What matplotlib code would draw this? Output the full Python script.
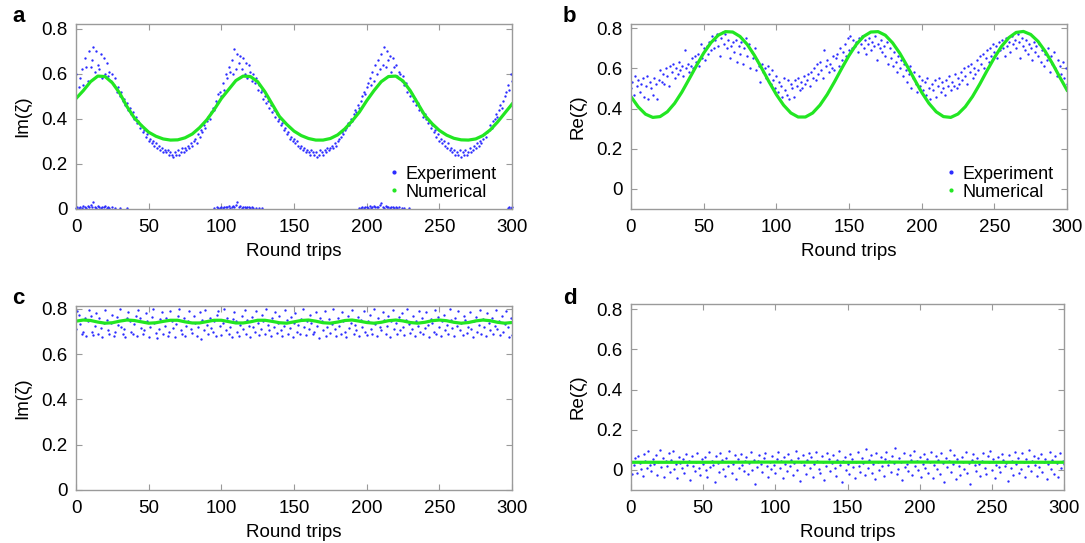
import numpy as np
import matplotlib
matplotlib.use("Agg")
import matplotlib.pyplot as plt
from matplotlib.lines import Line2D
from matplotlib.ticker import FuncFormatter

plt.rcParams['font.family'] = ['Liberation Sans', 'DejaVu Sans']

# --- Round trip axis ---
trips = np.arange(301)
trips_5 = np.arange(0, 301, 5)

# --- Panel a: Im(zeta), experiment (hundredths) ---
exp_a = [60, 50, 54, 58, 62, 55, 67, 63, 57, 70, 63, 66, 72, 61, 70, 64, 62, 69, 58, 67,
         60, 65, 59, 61, 57, 60, 55, 58, 52, 54, 50, 52, 48, 49, 46, 47, 44, 45, 42, 43,
         40, 41, 38, 39, 36, 37, 34, 35, 32, 33, 30, 31, 29, 30, 28, 29, 27, 28, 26, 27,
         25, 26, 25, 26, 24, 25, 24, 23, 25, 24, 26, 24, 25, 27, 25, 27, 26, 28, 27, 29,
         28, 30, 31, 29, 33, 32, 35, 34, 37, 36, 39, 41, 40, 43, 45, 44, 48, 47, 51, 52,
         50, 56, 53, 60, 58, 63, 61, 66, 60, 71, 62, 69, 65, 68, 62, 67, 60, 65, 58, 64,
         61, 57, 60, 56, 58, 53, 55, 52, 53, 49, 50, 47, 48, 45, 46, 43, 44, 41, 42, 39,
         40, 37, 38, 35, 36, 33, 34, 31, 32, 30, 31, 29, 30, 28, 27, 28, 26, 27, 25, 26,
         25, 24, 26, 25, 24, 25, 23, 24, 26, 25, 24, 26, 25, 27, 26, 27, 28, 27, 29, 28,
         30, 31, 32, 34, 33, 35, 36, 38, 37, 40, 39, 42, 44, 43, 46, 45, 48, 50, 52, 51,
         54, 56, 58, 55, 61, 57, 64, 60, 66, 62, 69, 64, 72, 63, 70, 66, 68, 61, 67, 63,
         64, 59, 61, 60, 57, 59, 55, 56, 52, 53, 50, 51, 48, 49, 46, 47, 44, 45, 43, 41,
         42, 40, 38, 39, 36, 37, 34, 35, 32, 33, 30, 31, 29, 30, 28, 27, 29, 26, 27, 25,
         26, 24, 25, 24, 26, 23, 25, 24, 26, 24, 25, 27, 25, 26, 28, 27, 29, 28, 30, 29,
         31, 33, 32, 34, 35, 37, 36, 39, 40, 42, 41, 44, 46, 45, 48, 50, 52, 55, 53, 60,
         57]

# --- Panel a: second branch near zero (thousandths) ---
zero_a_x = [0, 1, 2, 3, 4, 5, 6, 7, 8, 9, 10, 11, 12, 13, 14, 15, 16, 17, 18, 19, 20, 21, 22, 23,
            25, 27, 30, 35,
            95, 97, 98, 99, 100, 101, 102, 103, 104, 105, 106, 107, 108, 109, 110, 111, 112,
            113, 114, 115, 116, 117, 118, 119, 120, 121, 122, 124, 126, 128,
            195, 196, 197, 198, 199, 200, 201, 202, 203, 204, 205, 206, 207, 208, 209, 210,
            211, 212, 213, 214, 215, 216, 217, 218, 219, 220, 221, 222, 224, 226, 229,
            297, 298, 299, 300]
zero_a_y = [3, 5, 2, 8, 4, 10, 6, 3, 12, 7, 15, 5, 28, 9, 4, 11, 6, 3, 8, 5, 10, 4, 6, 3, 5, 4, 2, 1,
            3, 5, 2, 4, 7, 3, 9, 5, 6, 12, 4, 8, 10, 5, 18, 30, 7, 11, 4, 9, 6, 3, 8, 5, 4, 6, 3, 2, 4, 1,
            2, 4, 6, 3, 5, 8, 4, 10, 3, 7, 12, 5, 9, 6, 14, 25, 8, 4, 11, 6, 9, 3, 7, 5, 4, 6, 3, 5, 2, 4, 1,
            3, 5, 4, 6]

# --- Panel a: numerical (every 5 round trips) ---
num_a = [0.490, 0.525, 0.565, 0.590, 0.588, 0.560, 0.515, 0.455, 0.405, 0.370, 0.340,
         0.322, 0.310, 0.305, 0.306, 0.315, 0.332, 0.360, 0.395, 0.440, 0.490, 0.530,
         0.570, 0.590, 0.588, 0.565, 0.520, 0.465, 0.410, 0.375, 0.345, 0.325, 0.312,
         0.305, 0.305, 0.312, 0.328, 0.355, 0.390, 0.430, 0.480, 0.525, 0.565, 0.588,
         0.590, 0.568, 0.525, 0.470, 0.415, 0.378, 0.348, 0.327, 0.313, 0.306, 0.305,
         0.310, 0.325, 0.350, 0.385, 0.425, 0.465]

# --- Panel b: Re(zeta), experiment (hundredths) ---
exp_b = [50, 53, 47, 56, 51, 54, 48, 52, 55, 46, 51, 56, 45, 53, 50, 47, 55, 52, 45, 54,
         59, 53, 57, 52, 60, 56, 51, 61, 58, 62, 55, 60, 57, 63, 59, 61, 56, 69, 60, 62,
         58, 61, 65, 60, 66, 63, 67, 61, 72, 65, 70, 64, 71, 67, 73, 69, 76, 70, 74, 77,
         71, 66, 75, 78, 72, 77, 70, 74, 65, 71, 73, 68, 74, 63, 71, 67, 73, 62, 70, 75,
         66, 72, 60, 68, 65, 70, 59, 64, 61, 53, 62, 58, 60, 55, 61, 57, 52, 59, 54, 50,
         56, 48, 53, 51, 46, 55, 49, 47, 54, 45, 52, 50, 46, 54, 51, 55, 49, 53, 50, 56,
         52, 54, 57, 51, 58, 55, 60, 54, 62, 57, 63, 59, 55, 69, 61, 64, 58, 62, 60, 66,
         59, 65, 67, 61, 70, 64, 68, 72, 66, 75, 69, 76, 70, 74, 71, 73, 68, 75, 72, 76,
         70, 74, 67, 72, 75, 69, 73, 71, 76, 64, 72, 70, 74, 68, 71, 66, 73, 62, 70, 65,
         61, 68, 63, 58, 66, 60, 64, 56, 62, 59, 53, 57, 61, 50, 55, 58, 52, 48, 56, 51,
         54, 49, 53, 47, 55, 50, 45, 52, 49, 54, 46, 51, 55, 48, 53, 50, 47, 54, 51, 56,
         49, 53, 51, 57, 50, 55, 52, 58, 54, 60, 56, 52, 61, 58, 62, 55, 60, 57, 64, 59,
         66, 62, 67, 60, 65, 69, 63, 70, 66, 72, 68, 71, 65, 73, 69, 74, 70, 66, 75, 71,
         73, 68, 76, 72, 74, 70, 77, 73, 65, 75, 71, 69, 74, 67, 72, 70, 64, 73, 68, 71,
         66, 72, 63, 69, 61, 67, 64, 70, 58, 66, 62, 68, 60, 56, 64, 61, 57, 63, 55, 60,
         52]

num_b = [0.459, 0.408, 0.372, 0.356, 0.360, 0.384, 0.426, 0.482, 0.547, 0.613, 0.676,
         0.728, 0.765, 0.783, 0.781, 0.759, 0.719, 0.664, 0.600, 0.533, 0.470, 0.417,
         0.378, 0.358, 0.358, 0.378, 0.417, 0.470, 0.533, 0.600, 0.664, 0.719, 0.759,
         0.781, 0.783, 0.765, 0.727, 0.675, 0.612, 0.546, 0.481, 0.426, 0.384, 0.360,
         0.356, 0.373, 0.409, 0.460, 0.522, 0.589, 0.653, 0.710, 0.753, 0.779, 0.784,
         0.769, 0.735, 0.685, 0.624, 0.557, 0.492]

# --- Panel c: Im(zeta), experiment (thousandths) ---
exp_c = [710, 790, 775, 735, 690, 700, 760, 680, 745, 795, 770, 700, 685, 725, 780, 690, 760, 715, 675, 740,
         795, 750, 705, 690, 740, 775, 680, 700, 765, 730, 800, 720, 690, 710, 675, 760, 785, 745, 700, 690,
         735, 770, 680, 795, 760, 715, 690, 705, 780, 745, 675, 720, 765, 800, 740, 695, 670, 710, 755, 785,
         690, 725, 760, 680, 700, 790, 745, 715, 675, 735, 770, 800, 705, 690, 760, 680, 725, 745, 790, 710,
         695, 770, 740, 680, 720, 785, 665, 750, 705, 795, 730, 690, 760, 715, 700, 745, 680, 775, 790, 725,
         685, 740, 800, 705, 760, 690, 720, 675, 755, 785, 745, 700, 680, 730, 770, 710, 795, 690, 750, 725,
         675, 765, 720, 700, 790, 740, 685, 710, 775, 745, 690, 800, 730, 705, 680, 760, 720, 785, 695, 740,
         770, 705, 680, 725, 795, 750, 690, 715, 765, 675, 740, 780, 700, 730, 690, 755, 800, 720, 685, 745,
         710, 775, 740, 690, 700, 785, 725, 670, 760, 745, 705, 790, 680, 720, 755, 695, 735, 800, 710, 680,
         760, 725, 690, 785, 745, 700, 675, 770, 715, 740, 795, 690, 730, 705, 765, 680, 750, 720, 790, 700,
         685, 745, 775, 710, 690, 800, 735, 680, 760, 720, 705, 785, 750, 690, 725, 770, 675, 745, 795, 710,
         740, 690, 765, 705, 780, 720, 685, 750, 800, 735, 695, 710, 770, 680, 745, 725, 790, 700, 760, 690,
         715, 785, 730, 675, 755, 740, 700, 795, 690, 765, 720, 680, 745, 775, 705, 730, 690, 800, 750, 715,
         680, 760, 725, 790, 705, 740, 685, 770, 750, 695, 720, 785, 710, 675, 745, 765, 700, 730, 795, 690,
         755, 720, 680, 780, 740, 705, 760, 690, 725, 795, 710, 745, 685, 770, 700, 735, 790, 720, 675, 760,
         685]

num_c = [0.746, 0.751, 0.749, 0.742, 0.737, 0.739, 0.746, 0.751, 0.749, 0.743, 0.737,
         0.739, 0.745, 0.750, 0.750, 0.743, 0.738, 0.738, 0.744, 0.750, 0.750, 0.744,
         0.738, 0.738, 0.743, 0.750, 0.750, 0.745, 0.739, 0.737, 0.743, 0.749, 0.751,
         0.746, 0.739, 0.737, 0.742, 0.749, 0.751, 0.746, 0.740, 0.737, 0.741, 0.748,
         0.751, 0.747, 0.740, 0.737, 0.741, 0.748, 0.751, 0.748, 0.741, 0.737, 0.740,
         0.747, 0.751, 0.748, 0.741, 0.737, 0.740]

# --- Panel d: Re(zeta), experiment (thousandths) ---
exp_d = [40, -20, 25, 60, -15, 70, 35, 5, -30, 80, 45, 10, 95, 25, -5, 55, 30, 75, -25, 40,
         100, 15, 60, -35, 45, 20, 85, -10, 50, 95, 5, 30, -40, 65, 35, 10, 55, -15, 80, 25,
         45, -50, 70, 20, -5, 40, 85, 10, -25, 55, 30, 65, 0, -35, 90, 15, 45, 25, -60, 70,
         35, -10, 85, 50, 5, -30, 60, 20, 95, 40, -15, 30, 75, -45, 55, 10, 80, 25, -5, 45,
         65, -20, 35, 90, 0, 50, -70, 15, 45, 75, 30, -10, 60, 85, 20, -35, 40, 5, 70, 25,
         -15, 55, 90, 10, 45, -40, 65, 30, -5, 80, 20, 50, -25, 35, 95, 0, 60, -55, 40, 75,
         25, -20, 50, 85, 10, 65, -35, 30, 90, 45, 5, -15, 70, 40, -50, 20, 85, 55, -5, 35,
         75, 10, -30, 50, 95, 25, -60, 45, 65, 0, 30, -20, 80, 55, 15, -40, 40, 90, 20, -10,
         60, 35, -25, 105, 10, 50, 75, -15, 30, -45, 85, 40, 0, 65, 20, -30, 55, 90, 25, 45,
         -10, 70, 35, 110, -20, 5, 60, 40, -50, 85, 15, 30, -5, 75, 50, -25, 95, 20, 45, 0,
         65, -35, 30, 80, 10, 55, -15, 40, 90, -40, 25, 70, 5, 50, -20, 85, 35, -60, 60, 15,
         45, 100, -10, 30, 75, -45, 55, 20, -25, 65, 40, 5, 90, -15, 35, -70, 50, 80, 25, -5,
         60, 30, -30, 45, 85, 10, -20, 70, 40, 95, 0, 55, -40, 25, 65, 15, -10, 80, 50, 20,
         35, -55, 75, 10, 45, -25, 90, 30, 60, -15, 5, 85, 40, -35, 55, 20, 100, -5, 45, 70,
         25, -30, 60, 15, 80, -10, 40, 55, -45, 30, 90, 5, 50, -20, 70, 35, -35, 85, 10, 45,
         30]

trips_50 = [0, 50, 100, 150, 200, 250, 300]
num_d = [0.038, 0.038, 0.039, 0.038, 0.039, 0.038, 0.038]

# --- Style ---
BLUE = '#2b2bff'
GREEN = '#22e622'
GRAY = '#9a9a9a'
FS = 13.5

fig = plt.figure(figsize=(10.85, 5.43), dpi=100)
W, H = 1085, 543


def make_axes(left, top, right, bottom):
    return fig.add_axes([left / W, 1 - bottom / H, (right - left) / W, (bottom - top) / H])


def style(ax, ylim, ylabel):
    ax.set_xlim(0, 300)
    ax.set_ylim(*ylim)
    ax.set_xticks([0, 50, 100, 150, 200, 250, 300])
    ax.set_yticks([0, 0.2, 0.4, 0.6, 0.8])
    ax.yaxis.set_major_formatter(FuncFormatter(lambda v, p: '%g' % round(v, 2)))
    ax.tick_params(direction='in', top=True, right=True, length=4, width=0.8,
                   color=GRAY, labelsize=FS)
    ax.tick_params(axis='x', pad=7)
    ax.tick_params(axis='y', pad=6)
    for s in ax.spines.values():
        s.set_color(GRAY)
        s.set_linewidth(1.0)
    ax.set_xlabel('Round trips', fontsize=FS, labelpad=5)
    ax.set_ylabel(ylabel, fontsize=FS, labelpad=7)


def add_legend(ax, x_anchor):
    handles = [Line2D([], [], ls='none', marker='.', ms=4, color=BLUE),
               Line2D([], [], ls='none', marker='.', ms=4, color=GREEN)]
    ax.legend(handles, ['Experiment', 'Numerical'], loc='lower right', frameon=False,
              fontsize=FS - 0.5, handlelength=0.4, handletextpad=0.45, labelspacing=0.05,
              borderpad=0, borderaxespad=0, bbox_to_anchor=(x_anchor, 0.045))


MS = 3.4

# --- Panel a ---
ax = make_axes(76, 24, 512, 209)
ax.plot(trips, np.array(exp_a) / 100, '.', ms=MS, color=BLUE, mew=0)
ax.plot(zero_a_x, np.array(zero_a_y) / 1000, '.', ms=MS, color=BLUE, mew=0, clip_on=False)
ax.plot(trips_5, num_a, color=GREEN, lw=2.3)
style(ax, (-0.002, 0.822), 'Im(ζ)')
add_legend(ax, 0.965)
fig.text(12 / W, 1 - 17 / H, 'a', fontsize=16, fontweight='bold', va='center')

# --- Panel b ---
ax = make_axes(631, 24, 1067, 209)
ax.plot(trips, np.array(exp_b) / 100, '.', ms=MS, color=BLUE, mew=0)
ax.plot(trips_5, num_b, color=GREEN, lw=2.3)
style(ax, (-0.1, 0.821), 'Re(ζ)')
add_legend(ax, 0.97)
fig.text(563 / W, 1 - 17 / H, 'b', fontsize=16, fontweight='bold', va='center')

# --- Panel c ---
ax = make_axes(76, 306, 512, 490)
ax.plot(trips, np.array(exp_c) / 1000, '.', ms=MS, color=BLUE, mew=0)
ax.plot(trips_5, num_c, color=GREEN, lw=2.3)
style(ax, (0, 0.813), 'Im(ζ)')
fig.text(12 / W, 1 - 298 / H, 'c', fontsize=16, fontweight='bold', va='center')

# --- Panel d ---
ax = make_axes(631, 304, 1064, 490)
ax.plot(trips, np.array(exp_d) / 1000, '.', ms=MS, color=BLUE, mew=0)
ax.plot(trips_50, num_d, color=GREEN, lw=2.3)
style(ax, (-0.1, 0.826), 'Re(ζ)')
fig.text(563 / W, 1 - 298 / H, 'd', fontsize=16, fontweight='bold', va='center')

fig.savefig('out.png', dpi=100)
